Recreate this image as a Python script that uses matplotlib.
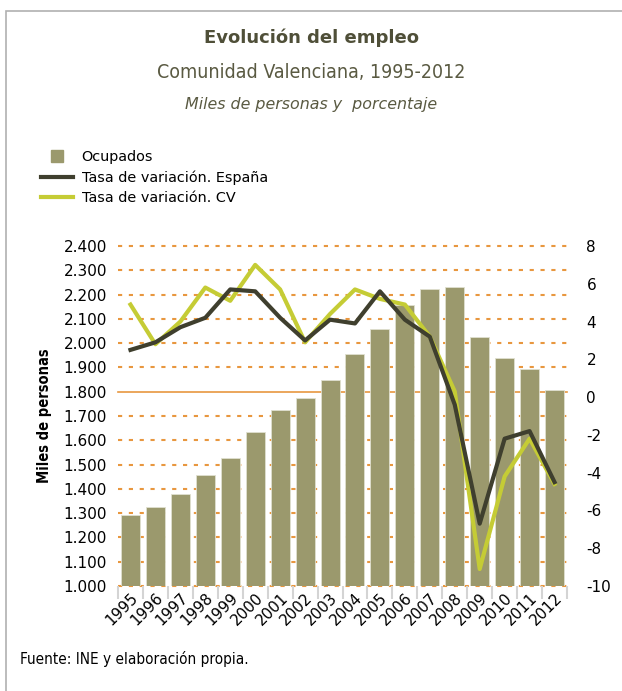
import matplotlib.pyplot as plt
from matplotlib.patches import Rectangle
from matplotlib.lines import Line2D
import numpy as np

years = [str(y) for y in range(1995, 2013)]
ocupados = [1293, 1327, 1378, 1457, 1529, 1636, 1725, 1773, 1848,
            1954, 2057, 2156, 2223, 2230, 2024, 1938, 1892, 1807]
tasa_espana = [2.5, 2.9, 3.7, 4.2, 5.7, 5.6, 4.2, 3.0, 4.1,
               3.9, 5.6, 4.1, 3.2, -0.4, -6.7, -2.2, -1.8, -4.5]
tasa_cv = [4.9, 2.8, 4.0, 5.8, 5.1, 7.0, 5.7, 2.9, 4.4,
           5.7, 5.2, 4.9, 3.2, 0.3, -9.1, -4.2, -2.2, -4.6]

left_ticks = list(range(1000, 2401, 100))
left_labels = [f"{v // 1000}.{v % 1000:03d}" for v in left_ticks]
right_ticks = list(range(-10, 9, 2))

BAR = "#9b996d"
DARK = "#3f3f2e"
CV = "#c5cc35"
GRID = "#e8973f"
TITLE = "#4f4f38"

W, H = 622, 691
fig = plt.figure(figsize=(W / 100, H / 100), dpi=100)
plt.rcParams['font.family'] = ['DejaVu Sans']

# marco gris
fig.patches.append(Rectangle((6 / W, -0.05), 1.0, (H - 11) / H + 0.05,
                             transform=fig.transFigure, fill=False,
                             edgecolor="#b0b0b0", linewidth=1.2))

# títulos
fig.text(0.5, 1 - 38 / H, "Evolución del empleo", ha="center", va="center",
         fontsize=13, fontweight="bold", color=TITLE)
fig.text(0.5, 1 - 72 / H, "Comunidad Valenciana, 1995-2012", ha="center",
         va="center", fontsize=14, color="#5a5a42", fontstretch="condensed")
fig.text(0.5, 1 - 104 / H, "Miles de personas y  porcentaje", ha="center",
         va="center", fontsize=11.4, style="italic", color="#5a5a42")

ax = fig.add_axes([118 / W, (H - 586) / H, 449 / W, 340 / H])
x = np.arange(len(years))
ax.bar(x, ocupados, width=0.76, color=BAR, edgecolor="#e0e0d0", linewidth=0.6,
       zorder=2, label="Ocupados")
ax.set_ylim(1000, 2400)
ax.set_xlim(-0.5, len(years) - 0.5)
ax.set_yticks(left_ticks)
ax.set_yticklabels(left_labels, fontsize=11)
for v in left_ticks:
    if v == 1800:
        ax.axhline(v, color=GRID, linewidth=1.2, zorder=1, clip_on=False)
    else:
        ax.axhline(v, color=GRID, linewidth=1.5, linestyle=(0, (2, 3.2)),
                   zorder=1, clip_on=False)
ax.set_ylabel("Miles de personas", fontsize=10.5, fontweight="bold",
              fontstretch="condensed", labelpad=8)
ax.set_xticks(x)
ax.set_xticklabels(years, rotation=45, ha="right", rotation_mode="anchor",
                   fontsize=11)
ax.set_xticks(np.arange(-0.5, len(years)), minor=True)
ax.tick_params(axis="x", which="major", length=0, pad=3)
ax.tick_params(axis="x", which="minor", length=9, color="#d4d4d4", width=1.5)
ax.tick_params(axis="y", length=0, pad=8)
for s in ax.spines.values():
    s.set_visible(False)

ax2 = ax.twinx()
ax2.plot(x, tasa_espana, color=DARK, linewidth=3, zorder=4,
         label="Tasa de variación. España")
ax2.plot(x, tasa_cv, color=CV, linewidth=3, zorder=3,
         label="Tasa de variación. CV")
ax2.set_ylim(-10, 8)
ax2.set_yticks(right_ticks)
ax2.set_yticklabels([str(v) for v in right_ticks], fontsize=11)
ax2.tick_params(axis="y", length=0, pad=14)
for s in ax2.spines.values():
    s.set_visible(False)

handles = [Line2D([], [], color=BAR, marker="s", markersize=9, linestyle="none"),
           Line2D([], [], color=DARK, linewidth=3),
           Line2D([], [], color=CV, linewidth=3)]
labels = ["Ocupados", "Tasa de variación. España", "Tasa de variación. CV"]
fig.legend(handles, labels, loc="upper left",
           bbox_to_anchor=(34 / W, 1 - 143 / H), frameon=False, fontsize=10.4,
           handlelength=2.2, labelspacing=0.42,
           handletextpad=0.6, borderpad=0)

fig.text(20 / W, 1 - 659 / H, "Fuente: INE y elaboración propia.", ha="left",
         va="center", fontsize=11, fontstretch="condensed")

fig.savefig("out.png", dpi=100)
